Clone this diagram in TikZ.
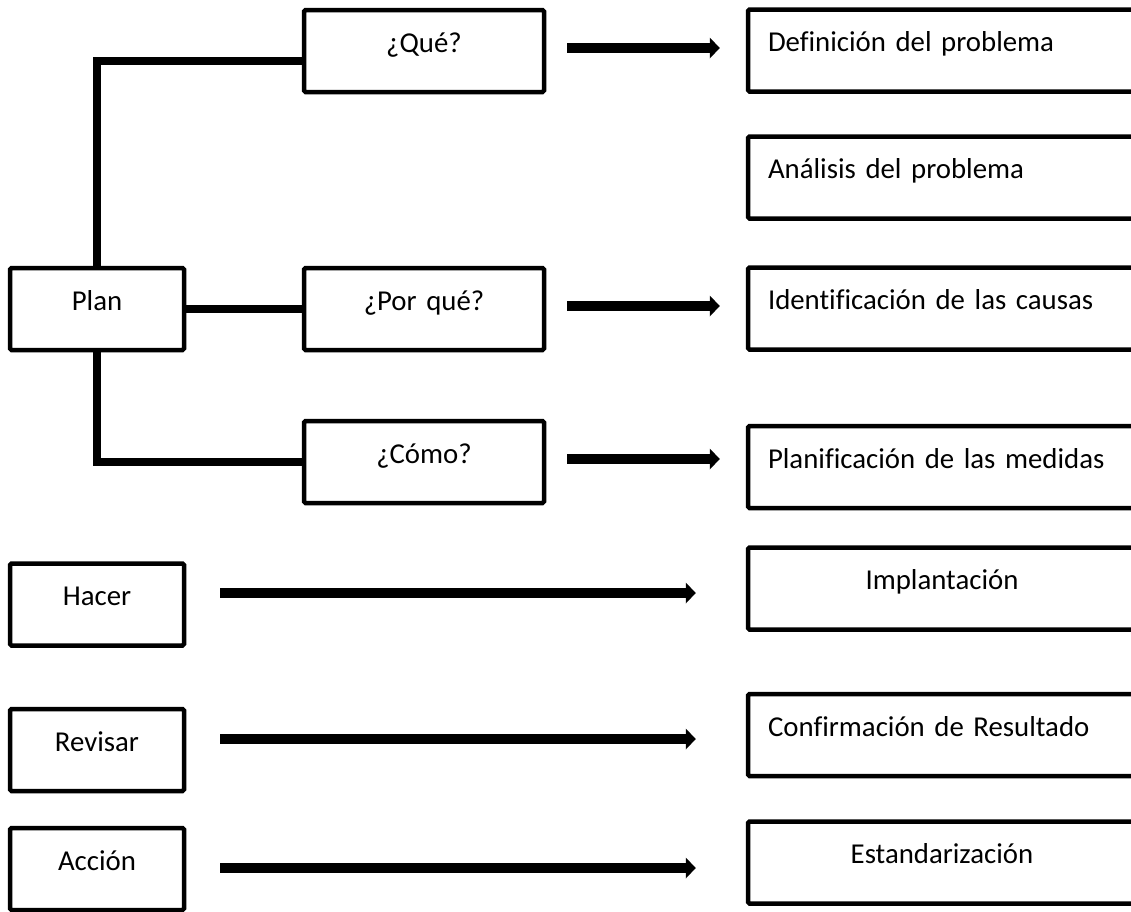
\documentclass[tikz,border=0pt]{standalone}
\usepackage{fontspec}
\setmainfont[Ligatures=NoCommon]{Carlito}
\usetikzlibrary{arrows.meta}
\begin{document}
\begin{tikzpicture}[x=1pt,y=-1pt,
  box/.style={draw=black, line width=4.5pt, rounded corners=1.5pt,
    inner xsep=20pt, inner ysep=0pt, minimum height=82pt,
    text height=20pt, text depth=18pt,
    font=\fontsize{28.8}{34}\selectfont},
  smallbox/.style={box, align=center, text width=134pt},
  midbox/.style={box, align=center, text width=200pt},
  widebox/.style={box, text width=348pt},
  conn/.style={line width=8pt},
  flow/.style={line width=10pt, -{Triangle[length=10pt,width=21pt,line width=0pt]}}
]
\useasboundingbox (0,0) rectangle (1131,911);
\clip (0,0) rectangle (1131,911);

% PDCA stages
\node[smallbox] (plan)    at (97,309)   {Plan};
\node[smallbox] (hacer)   at (97,604.5) {Hacer};
\node[smallbox] (revisar) at (97,750)   {Revisar};
\node[smallbox] (accion)  at (97,869)   {Acción};

% questions of the planning stage
\node[midbox] (que)    at (424,51)  {¿Qué?};
\node[midbox] (porque) at (424,309) {¿Por qué?};
\node[midbox] (como)   at (424,462) {¿Cómo?};

% steps
\node[widebox, align=left]   (def) at (942,50.5)  {Definición del problema};
\node[widebox, align=left]   (ana) at (942,177.5) {Análisis del problema};
\node[widebox, align=left]   (ide) at (942,308.5) {Identificación de las causas};
\node[widebox, align=left]   (pla) at (942,467)   {Planificación de las medidas};
\node[widebox, align=center] (imp) at (942,588.5) {Implantación};
\node[widebox, align=left]   (con) at (942,735)   {Confirmación de Resultado};
\node[widebox, align=center] (est) at (942,862.5) {Estandarización};

% tree from Plan
\draw[conn] (plan.north) |- ([yshift=-10pt]que.west);
\draw[conn] (plan.east) -- (porque.west);
\draw[conn] (plan.south) |- (como.west);

% arrows to the steps
\draw[flow] ([xshift=21pt,yshift=3pt]que.east)    -- ([xshift=-26pt,yshift=2.5pt]def.west);
\draw[flow] ([xshift=21pt,yshift=3pt]porque.east) -- ([xshift=-26pt,yshift=2.5pt]ide.west);
\draw[flow] ([xshift=21pt,yshift=3pt]como.east)   -- ([xshift=-26pt,yshift=8pt]pla.west);
\draw[flow] ([xshift=34pt,yshift=11.5pt]hacer.east) -- ([xshift=-50pt,yshift=-4.5pt]imp.west);
\draw[flow] ([xshift=34pt,yshift=11pt]revisar.east) -- ([xshift=-50pt,yshift=-4pt]con.west);
\draw[flow] ([xshift=34pt,yshift=1pt]accion.east)   -- ([xshift=-50pt,yshift=-5.5pt]est.west);
\end{tikzpicture}
\end{document}
